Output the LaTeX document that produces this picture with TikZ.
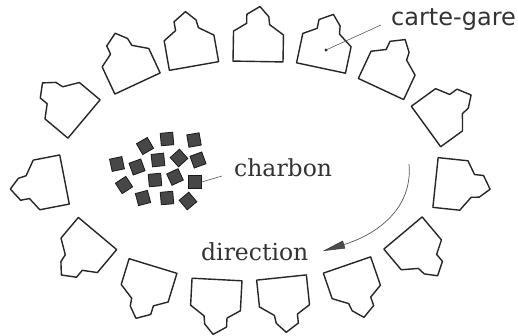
\documentclass[tikz,border=0pt]{standalone}
\usepackage{fontspec}
\usetikzlibrary{arrows.meta}
\newfontfamily\labelserif{DejaVu Serif}
\newfontfamily\labelsans{DejaVu Sans}
\tikzset{
  station/.pic={
    \draw[stationline] (-25,0) -- (25,0) -- (25,-27) -- (11,-37) -- (10,-45)
      -- (1,-55) -- (-12,-47) -- (-12,-38) -- (-25,-30) -- cycle;
  },
  stationline/.style={line width=1.4pt, draw=black!85, line join=round},
  coal/.style={draw=black!90, fill=black!72, line width=0.8pt,
    minimum size=12.5pt, inner sep=0pt},
  leader/.style={draw=black!65, line width=0.6pt},
  lbl/.style={inner sep=0pt, anchor=base west, text=black!80},
}
\begin{document}
\begin{tikzpicture}[x=1pt, y=-1pt]
\useasboundingbox[fill=white] (0,0) rectangle (518,335);

% ring of stations, base midpoint and turn of each
\foreach \px/\py/\ang in {
    84/119/50, 137.5/83.5/25, 194/66/10, 258/61.5/-1, 321/68/-12,
    381/89/-25, 426/126.5/-54, 435.5/182.5/-96, 403/233/-140,
    347/265/-161, 281.5/277.5/-174, 217/279.5/177, 153/266/163,
    97.5/233.5/140, 64.5/179.5/101}
  \pic[rotate=\ang] at (\px,\py) {station};

% heap of coal
\foreach \cx/\cy/\cr [count=\i] in {
    145/146/30, 167/139/5, 194/140/10, 117/164/12, 137/167/20,
    158/160/6, 179/158/42, 198/160/20, 124/185/33, 155/180/5,
    175/177/25, 195/182/0, 143/198/15, 167/198/5, 188/201/40}
  \node[coal, rotate=\cr] (c\i) at (\cx,\cy) {};

% labels
\node[lbl, font=\labelsans\fontsize{24}{28}\selectfont] (gare) at (391,25) {carte-gare};
\node[lbl, font=\labelserif\fontsize{23.5}{28}\selectfont] (charbon) at (234,176) {charbon};
\node[lbl, font=\labelserif\fontsize{23.5}{28}\selectfont] (dir) at (201,260) {direction};

% leader lines
\coordinate (garedot) at (326,50);
\coordinate (gareend) at (381,25);
\fill[black!85] (garedot) circle (1.6pt);
\draw[leader] (garedot) -- (gareend);
\coordinate (coalend) at (222,176);
\draw[leader] (c12.east) -- (coalend);

% sense of travel
\coordinate (dirstart) at (409,164);
\coordinate (dirtip) at (323,251);
\draw[draw=black!65, line width=0.7pt,
  -{Triangle[length=22pt, width=8pt, fill=black!70, color=black!80, line width=0.5pt]}]
  (dirstart) .. controls (413,210) and (375,235) .. (dirtip);
\end{tikzpicture}
\end{document}
